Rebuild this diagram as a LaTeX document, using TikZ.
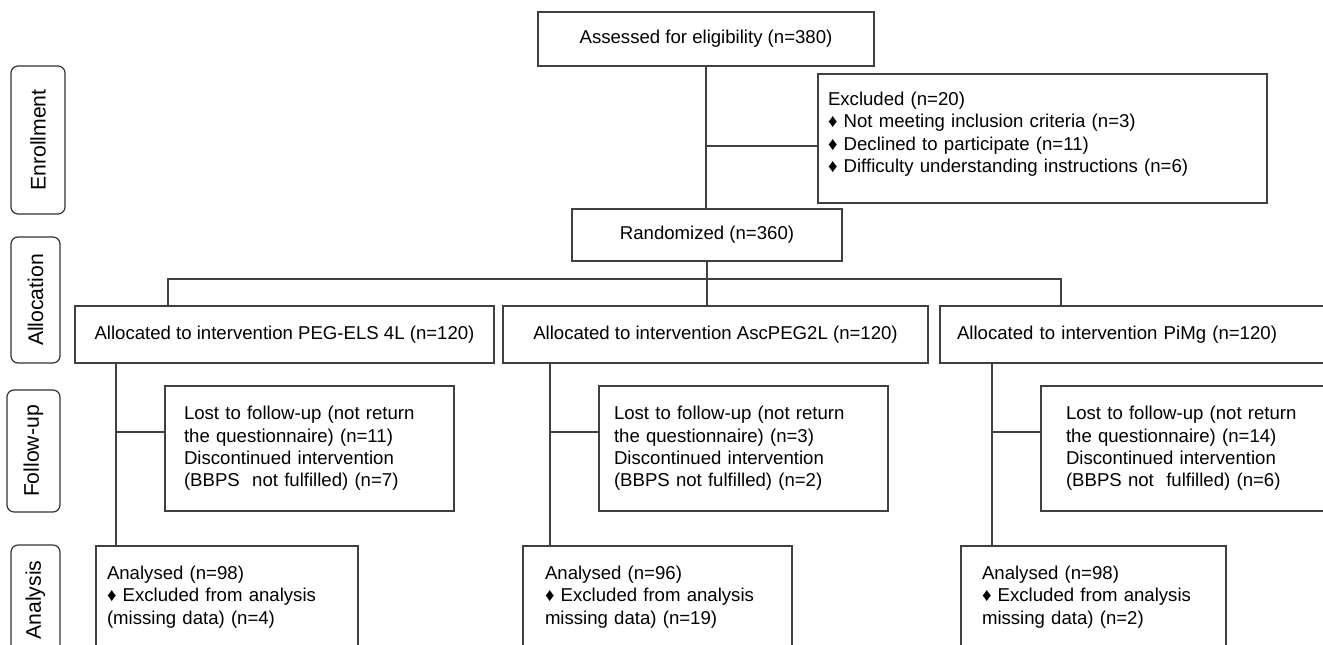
\documentclass[tikz,border=0pt]{standalone}
\usepackage{fontspec}
\setmainfont{Liberation Sans}
\usetikzlibrary{positioning}

\begin{document}
\begin{tikzpicture}
  [x=0.5pt,y=-0.5pt,
   every node/.style={font=\fontsize{9.3}{11.2}\selectfont},
   stage/.style={rectangle,rounded corners=3.5pt,draw=black!80,line width=0.6pt,
                 rotate=90,inner sep=0pt,font=\fontsize{10.6}{12}\selectfont},
   box/.style={rectangle,draw=black!75,line width=0.6pt,inner sep=0pt},
   listbox/.style={box,align=left},
   link/.style={draw=black!75,line width=0.6pt}]
  \useasboundingbox (0,0) rectangle (1323,644);
  \clip (0,0) rectangle (1323,644);

  % stages
  \node at (38,140) [stage,minimum width=74pt,minimum height=27pt] (enrol) {Enrollment};
  \node at (35.5,300) [stage,minimum width=63pt,minimum height=24.5pt] (alloc) {Allocation};
  \node at (33.5,451) [stage,minimum width=61pt,minimum height=26.5pt] (follow) {Follow-up};
  \node at (35.5,600) [stage,minimum width=55pt,minimum height=24.5pt] (anal) {Analysis};

  % enrollment
  \node at (706,39) [box,minimum width=168pt,minimum height=27pt] (assess)
    {Assessed for eligibility (n=380)};
  \node at (1042.5,138.5) [listbox,text width=214.5pt,inner xsep=5pt,minimum height=64.5pt] (excl)
    {Excluded (n=20)\\
     ♦ Not meeting inclusion criteria (n=3)\\
     ♦ Declined to participate (n=11)\\
     ♦ Difficulty understanding instructions (n=6)\\[-5pt]\mbox{}};
  \node at (707,235) [box,minimum width=135pt,minimum height=26pt] (rand)
    {Randomized (n=360)};

  % allocation
  \node at (284.5,334.5) [box,minimum width=209.5pt,minimum height=28.5pt] (alloc1)
    {Allocated to intervention PEG-ELS 4L (n=120)};
  \node at (715.5,334.5) [box,minimum width=212.5pt,minimum height=28.5pt] (alloc2)
    {Allocated to intervention AscPEG2L (n=120)};
  \node at (1137.5,334.5) [listbox,text width=180.5pt,inner xsep=8.5pt,minimum height=28.5pt] (alloc3)
    {Allocated to intervention PiMg (n=120)};

  % follow-up
  \node at (309.5,448.5) [listbox,text width=125.5pt,inner xsep=9.5pt,minimum height=62.5pt] (fu1)
    {Lost to follow-up (not return\\ the questionnaire) (n=11)\\
     Discontinued intervention\\ (BBPS~ not fulfilled) (n=7)};
  \node at (743.5,448.5) [listbox,text width=129.5pt,inner xsep=7.5pt,minimum height=62.5pt] (fu2)
    {Lost to follow-up (not return\\ the questionnaire) (n=3)\\
     Discontinued intervention\\ (BBPS not fulfilled) (n=2)};
  \node at (1188,448.5) [listbox,text width=122pt,inner xsep=12.5pt,minimum height=62.5pt] (fu3)
    {Lost to follow-up (not return\\ the questionnaire) (n=14)\\
     Discontinued intervention\\ (BBPS not~ fulfilled) (n=6)};

  % analysis
  \node at (227,597) [listbox,text width=120pt,inner xsep=5.5pt,minimum height=51pt] (an1)
    {Analysed (n=98)\\ ♦ Excluded from analysis\\ (missing data) (n=4)};
  \node at (657.5,597) [listbox,text width=112.5pt,inner xsep=11pt,minimum height=51pt] (an2)
    {Analysed (n=96)\\ ♦ Excluded from analysis\\ missing data) (n=19)};
  \node at (1093.5,597) [listbox,text width=111.5pt,inner xsep=10.5pt,minimum height=51pt] (an3)
    {Analysed (n=98)\\ ♦ Excluded from analysis\\ missing data) (n=2)};

  % connectors
  \draw[link] (assess.south) -- (assess.south |- rand.north);
  \coordinate (ej) at (706,146);
  \draw[link] (ej) -- (ej -| excl.west);
  \draw[link] (rand.south) -- (rand.south |- alloc2.north);
  \coordinate (b1) at (168,279);
  \coordinate (b3) at (1061,279);
  \draw[link] (b1 |- alloc1.north) -- (b1) -- (b3) -- (b3 |- alloc3.north);
  \foreach \i/\x in {1/116,2/550,3/992} {
    \coordinate (v\i) at (\x,432);
    \draw[link] (v\i |- alloc\i.south) -- (v\i |- an\i.north);
    \draw[link] (v\i) -- (v\i -| fu\i.west);
  }
\end{tikzpicture}
\end{document}
